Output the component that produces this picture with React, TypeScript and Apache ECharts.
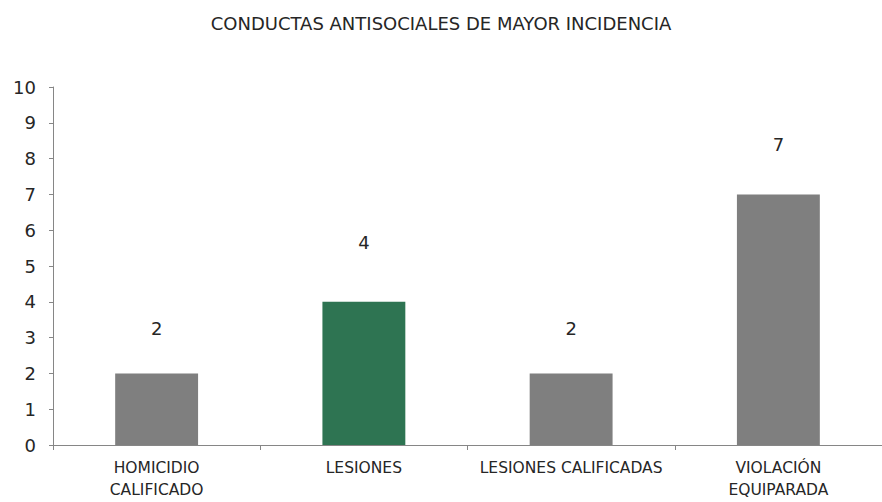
import React, { useEffect, useRef } from "react";
import * as echarts from "echarts";

const titleText = "CONDUCTAS ANTISOCIALES DE MAYOR INCIDENCIA";
const categories = ["HOMICIDIO\nCALIFICADO", "LESIONES", "LESIONES CALIFICADAS", "VIOLACIÓN\nEQUIPARADA"];
const values = [2, 4, 2, 7];
const barColors = ["#7f7f7f", "#2e7452", "#7f7f7f", "#7f7f7f"];
const labelDistances = [36, 50, 36, 41];

const FONT = "DejaVu Sans";

export default function App() {
  const ref = useRef<HTMLDivElement>(null);
  useEffect(() => {
    if (!ref.current) return;
    const chart = echarts.init(ref.current, undefined, { renderer: "svg" });
    chart.setOption({
      animation: false,
      backgroundColor: "#ffffff",
      title: {
        text: titleText,
        left: "center",
        top: 9,
        textStyle: { fontFamily: FONT, fontSize: 18, fontWeight: "normal", color: "#262626" },
      },
      grid: { left: 53, width: 835, top: 87, height: 358, containLabel: false },
      xAxis: {
        type: "category",
        data: categories,
        axisLine: { lineStyle: { color: "#868686", width: 1 } },
        axisTick: { show: true, alignWithLabel: false, length: 5, lineStyle: { color: "#868686" } },
        axisLabel: { fontFamily: FONT, fontSize: 15.5, color: "#262626", lineHeight: 22, margin: 12, interval: 0 },
        splitLine: { show: false },
      },
      yAxis: {
        type: "value",
        min: 0,
        max: 10,
        interval: 1,
        axisLine: { show: true, lineStyle: { color: "#868686", width: 1 } },
        axisTick: { show: true, length: 4, lineStyle: { color: "#868686" } },
        axisLabel: { fontFamily: FONT, fontSize: 18, color: "#262626", margin: 17 },
        splitLine: { show: false },
      },
      series: [
        {
          type: "bar",
          barWidth: "40%",
          data: values.map((v, i) => ({
            value: v,
            itemStyle: { color: barColors[i] },
            label: { distance: labelDistances[i] },
          })),
          label: {
            show: true,
            position: "top",
            fontFamily: FONT,
            fontSize: 18,
            color: "#262626",
          },
        },
      ],
    });
    return () => chart.dispose();
  }, []);
  return (
    <div
      ref={ref}
      style={{ position: "fixed", left: 0, top: 0, width: 882, height: 502, overflow: "hidden" }}
    />
  );
}
